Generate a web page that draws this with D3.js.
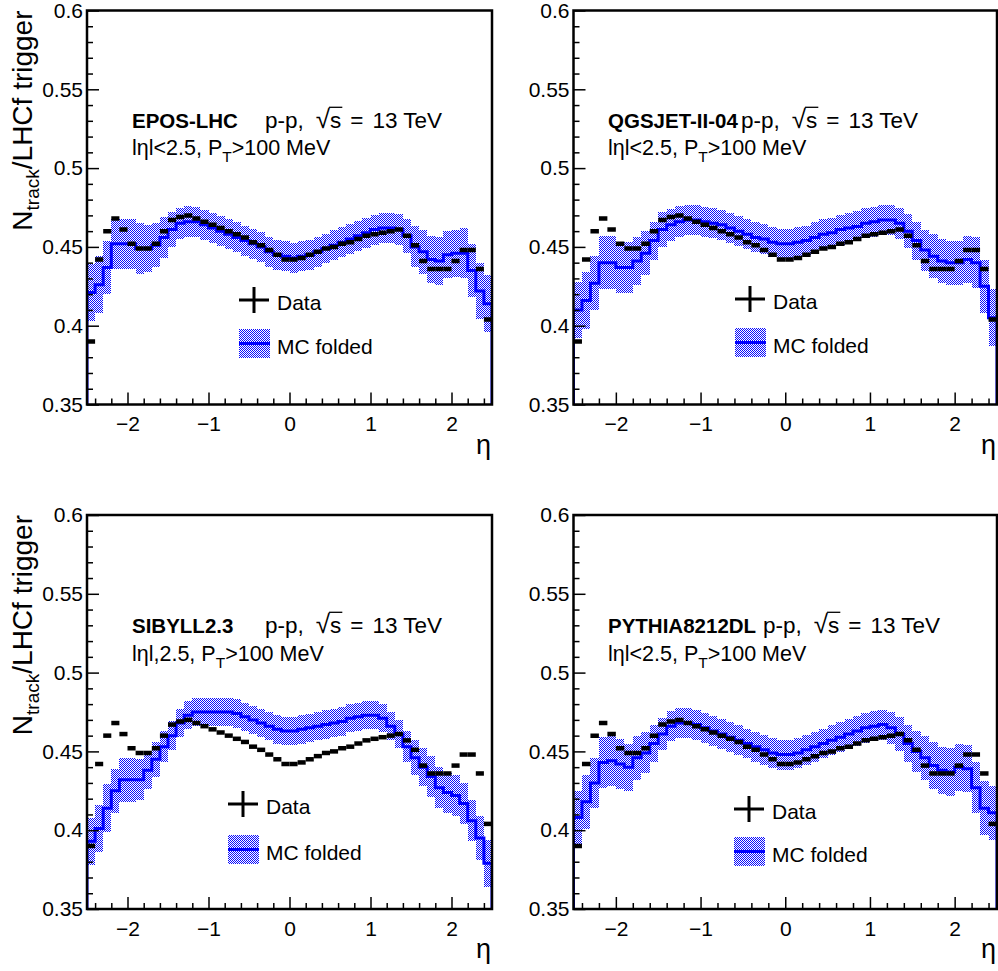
<!DOCTYPE html>
<html><head><meta charset="utf-8">
<script src="https://cdn.jsdelivr.net/npm/d3@7"></script>
<style>
body{margin:0;background:#fff;}
svg{display:block;}
text{font-family:"Liberation Sans",Arial,Helvetica,sans-serif;fill:#000;}
</style>
</head><body>
<svg id="c" width="998" height="971"></svg>
<script>
// ---------- DATA ----------
const etaCenters = [-2.45,-2.35,-2.25,-2.15,-2.05,-1.95,-1.85,-1.75,-1.65,-1.55,-1.45,-1.35,-1.25,-1.15,-1.05,-0.95,-0.85,-0.75,-0.65,-0.55,-0.45,-0.35,-0.25,-0.15,-0.05,0.05,0.15,0.25,0.35,0.45,0.55,0.65,0.75,0.85,0.95,1.05,1.15,1.25,1.35,1.45,1.55,1.65,1.75,1.85,1.95,2.05,2.15,2.25,2.35,2.45];
const binWidth = 0.1;

const dataValues = [0.390,0.442,0.460,0.468,0.461,0.452,0.449,0.449,0.452,0.460,0.467,0.469,0.470,0.468,0.466,0.464,0.462,0.460,0.458,0.456,0.453,0.451,0.448,0.445,0.442,0.442,0.443,0.445,0.447,0.449,0.450,0.452,0.453,0.455,0.457,0.458,0.459,0.460,0.461,0.457,0.451,0.441,0.436,0.436,0.436,0.441,0.448,0.448,0.436,0.404];

const mcEpos = [0.421,0.426,0.437,0.452,0.452,0.452,0.449,0.449,0.451,0.456,0.461,0.465,0.466,0.466,0.464,0.462,0.460,0.458,0.456,0.454,0.452,0.450,0.447,0.445,0.444,0.443,0.444,0.445,0.447,0.449,0.451,0.453,0.455,0.457,0.459,0.461,0.462,0.462,0.461,0.457,0.450,0.447,0.442,0.441,0.445,0.446,0.446,0.435,0.422,0.414];
const mcEposErr = [0.018,0.018,0.017,0.016,0.016,0.016,0.016,0.015,0.014,0.013,0.011,0.010,0.010,0.0095,0.0095,0.0095,0.0095,0.0095,0.0095,0.0095,0.0095,0.0095,0.0095,0.0095,0.0095,0.0095,0.0095,0.0095,0.0095,0.0095,0.0095,0.0095,0.0095,0.0095,0.0095,0.0095,0.0095,0.0095,0.010,0.011,0.013,0.014,0.015,0.015,0.015,0.015,0.016,0.017,0.018,0.018];

const mcQgs = [0.410,0.416,0.427,0.440,0.440,0.437,0.437,0.441,0.446,0.454,0.461,0.464,0.466,0.467,0.467,0.466,0.465,0.464,0.462,0.460,0.458,0.456,0.455,0.453,0.452,0.452,0.453,0.454,0.456,0.458,0.459,0.461,0.462,0.463,0.465,0.466,0.467,0.467,0.465,0.460,0.454,0.448,0.444,0.441,0.440,0.440,0.442,0.440,0.425,0.405];
const mcQgsErr = [0.018,0.018,0.017,0.017,0.017,0.016,0.016,0.015,0.014,0.012,0.011,0.010,0.010,0.0095,0.0095,0.0095,0.0095,0.0095,0.0095,0.0095,0.0095,0.0095,0.0095,0.0095,0.0095,0.0095,0.0095,0.0095,0.0095,0.0095,0.0095,0.0095,0.0095,0.0095,0.0095,0.0095,0.0095,0.0095,0.010,0.011,0.012,0.013,0.014,0.014,0.014,0.014,0.015,0.016,0.017,0.018];

const mcSib = [0.393,0.401,0.414,0.425,0.432,0.432,0.432,0.438,0.445,0.453,0.460,0.468,0.473,0.475,0.475,0.475,0.475,0.475,0.474,0.472,0.470,0.468,0.466,0.464,0.463,0.463,0.464,0.465,0.466,0.467,0.468,0.469,0.471,0.472,0.473,0.473,0.471,0.466,0.461,0.453,0.446,0.440,0.434,0.427,0.424,0.422,0.417,0.406,0.395,0.379];
const mcSibErr = [0.015,0.015,0.015,0.014,0.014,0.014,0.013,0.012,0.011,0.010,0.009,0.009,0.009,0.009,0.009,0.009,0.009,0.009,0.009,0.009,0.009,0.009,0.009,0.009,0.009,0.009,0.009,0.009,0.009,0.009,0.009,0.009,0.009,0.009,0.009,0.009,0.009,0.009,0.009,0.010,0.011,0.012,0.013,0.013,0.013,0.013,0.013,0.013,0.014,0.015];

const mcPyt = [0.408,0.418,0.430,0.443,0.444,0.442,0.440,0.446,0.449,0.455,0.461,0.466,0.468,0.468,0.467,0.465,0.463,0.461,0.459,0.457,0.455,0.453,0.451,0.449,0.448,0.448,0.449,0.451,0.453,0.455,0.457,0.459,0.461,0.463,0.465,0.466,0.467,0.465,0.461,0.455,0.450,0.446,0.441,0.438,0.437,0.440,0.439,0.427,0.414,0.411];
const mcPytErr = [0.017,0.017,0.016,0.016,0.016,0.016,0.015,0.014,0.013,0.012,0.010,0.0095,0.0095,0.0095,0.0095,0.0095,0.0095,0.0095,0.0095,0.0095,0.0095,0.0095,0.0095,0.0095,0.0095,0.0095,0.0095,0.0095,0.0095,0.0095,0.0095,0.0095,0.0095,0.0095,0.0095,0.0095,0.0095,0.010,0.011,0.012,0.013,0.014,0.015,0.015,0.015,0.015,0.015,0.016,0.017,0.017];

const modelNames = ["EPOS-LHC","QGSJET-II-04","SIBYLL2.3","PYTHIA8212DL"];
const etaCutLabels = ["lηl<2.5, P","lηl<2.5, P","lηl,2.5, P","lηl<2.5, P"];
const mcSeries = [mcEpos, mcQgs, mcSib, mcPyt];
const mcErrors = [mcEposErr, mcQgsErr, mcSibErr, mcPytErr];

const xTicks = [-2,-1,0,1,2];
const xMinorTicks = [-2.4,-2.2,-1.8,-1.6,-1.4,-1.2,-0.8,-0.6,-0.4,-0.2,0.2,0.4,0.6,0.8,1.2,1.4,1.6,1.8,2.2,2.4];
const yTicks = [0.35,0.4,0.45,0.5,0.55,0.6];
const yMinorTicks = [0.36,0.37,0.38,0.39,0.41,0.42,0.43,0.44,0.46,0.47,0.48,0.49,0.51,0.52,0.53,0.54,0.56,0.57,0.58,0.59];

// ---------- LAYOUT ----------
const panels = [
  {x0:87,   x1:492, y0:10.5, y1:404.5, title:true,  ann:{x:132, y:128, x2:265, y2:155}, leg:{cx:254, cy:300, bx:239, by:329}},
  {x0:573.5,x1:997, y0:10.5, y1:404.5, title:false, ann:{x:608, y:128, x2:741, y2:155}, leg:{cx:750, cy:299, bx:735, by:328}},
  {x0:87,   x1:492, y0:515,  y1:909,   title:true,  ann:{x:132, y:633, x2:265, y2:661}, leg:{cx:243, cy:804, bx:228, by:835}},
  {x0:573.5,x1:997, y0:515,  y1:909,   title:false, ann:{x:608, y:633, x2:763, y2:661}, leg:{cx:749, cy:809, bx:734, by:837}}
];

const BLUE = "#0000ff";
const svg = d3.select("#c");
const defs = svg.append("defs");
const pat = defs.append("pattern").attr("id","hatch").attr("patternUnits","userSpaceOnUse")
  .attr("width",2).attr("height",2);
pat.append("rect").attr("x",0).attr("y",0).attr("width",1).attr("height",1).attr("fill","#0a0aff");
pat.append("rect").attr("x",1).attr("y",1).attr("width",1).attr("height",1).attr("fill","#0a0aff");

function rich(g, x, y, pieces, size) {
  let cx = x;
  pieces.forEach(p => {
    const fs = p.fs || (p.sub ? size*0.72 : size);
    const t = g.append("text").attr("x", cx).attr("y", y + (p.sub ? size*0.32 : 0))
      .attr("font-size", fs).attr("font-weight", p.bold ? "bold" : "normal").text(p.t);
    t.style("white-space","pre");
    const w = t.node().getComputedTextLength();
    if (p.over) {
      g.append("line").attr("x1", cx - 1).attr("x2", cx + w + 1)
        .attr("y1", y - size*0.92).attr("y2", y - size*0.92)
        .attr("stroke","#000").attr("stroke-width",1.3);
    }
    cx += w + (p.gap || 0);
  });
}

panels.forEach((P, i) => {
  const x = d3.scaleLinear().domain([-2.5, 2.5]).range([P.x0, P.x1]);
  const y = d3.scaleLinear().domain([0.35, 0.6]).range([P.y1, P.y0]);
  const g = svg.append("g");
  const clipId = "clip" + i;
  defs.append("clipPath").attr("id", clipId).append("rect")
    .attr("x", P.x0).attr("y", P.y0).attr("width", P.x1 - P.x0).attr("height", P.y1 - P.y0);
  const inner = g.append("g").attr("clip-path", `url(#${clipId})`);

  const mc = mcSeries[i], err = mcErrors[i];
  // hatched band
  inner.append("g").selectAll("rect").data(etaCenters).join("rect")
    .attr("x", (c) => x(c - binWidth/2))
    .attr("width", (c) => x(c + binWidth/2) - x(c - binWidth/2))
    .attr("y", (c, k) => y(mc[k] + err[k]))
    .attr("height", (c, k) => y(mc[k] - err[k]) - y(mc[k] + err[k]))
    .attr("fill", "url(#hatch)")
    .attr("shape-rendering", "crispEdges");

  // step line
  const pts = [[x(-2.5), y(0.35)]];
  etaCenters.forEach((c, k) => {
    pts.push([x(c - binWidth/2), y(mc[k])]);
    pts.push([x(c + binWidth/2), y(mc[k])]);
  });
  pts.push([x(2.5), y(0.35)]);
  inner.append("path").attr("d", d3.line()(pts)).attr("fill","none")
    .attr("stroke", BLUE).attr("stroke-width", 3);

  // data points
  inner.append("g").selectAll("line").data(etaCenters).join("line")
    .attr("x1", (c) => x(c - binWidth/2)).attr("x2", (c) => x(c + binWidth/2))
    .attr("y1", (c, k) => y(dataValues[k])).attr("y2", (c, k) => y(dataValues[k]))
    .attr("stroke", "#000").attr("stroke-width", 4.5);

  // axes
  const axB = g.append("g").attr("transform", `translate(0,${P.y1})`)
    .call(d3.axisBottom(x).tickValues(xTicks).tickSizeInner(-12).tickSizeOuter(0).tickPadding(12)
      .tickFormat(d => d < 0 ? "\u2212" + Math.abs(d) : String(d)));
  const axBm = g.append("g").attr("transform", `translate(0,${P.y1})`)
    .call(d3.axisBottom(x).tickValues(xMinorTicks).tickSizeInner(-6).tickSizeOuter(0).tickFormat(""));
  const axL = g.append("g").attr("transform", `translate(${P.x0},0)`)
    .call(d3.axisLeft(y).tickValues(yTicks).tickSizeInner(-12).tickSizeOuter(0).tickPadding(4)
      .tickFormat(d => String(d)));
  const axLm = g.append("g").attr("transform", `translate(${P.x0},0)`)
    .call(d3.axisLeft(y).tickValues(yMinorTicks).tickSizeInner(-6).tickSizeOuter(0).tickFormat(""));
  [axB, axBm, axL, axLm].forEach(a => {
    a.select(".domain").remove();
    a.selectAll("line").attr("stroke", "#000").attr("stroke-width", 1.5);
    a.selectAll("text").attr("font-size", 21).attr("font-family", '"Liberation Sans",Arial,sans-serif').attr("fill","#000");
  });

  // frame
  g.append("rect").attr("x", P.x0).attr("y", P.y0).attr("width", P.x1 - P.x0).attr("height", P.y1 - P.y0)
    .attr("fill", "none").attr("stroke", "#000").attr("stroke-width", 2.5);

  // x title
  g.append("text").attr("x", P.x1 - 1).attr("y", P.y1 + 49).attr("text-anchor", "end")
    .attr("font-size", 27).text("η");

  // y title
  if (P.title) {
    const t = g.append("text").attr("transform", `translate(32,${P.y0}) rotate(-90)`)
      .attr("text-anchor", "end").attr("font-size", 28);
    t.append("tspan").text("N");
    t.append("tspan").attr("font-size", 19).attr("dy", 7).text("track");
    t.append("tspan").attr("dy", -7).text("/LHCf trigger");
  }

  // annotations
  rich(g, P.ann.x, P.ann.y, [{t: modelNames[i], bold: true}], 20.5);
  rich(g, P.ann.x2, P.ann.y, [{t:"p-p,", gap: 12},{t:"√", fs: 26},{t:"s", over:true, gap: 9},{t:"=", gap: 9},{t:"13 TeV"}], 22.5);
  rich(g, P.ann.x, P.ann.y2, [{t: etaCutLabels[i]},{t:"T", sub:true},{t:">100 MeV"}], 21.5);

  // legend
  const L = P.leg;
  g.append("line").attr("x1", L.cx - 15).attr("x2", L.cx + 15).attr("y1", L.cy).attr("y2", L.cy)
    .attr("stroke", "#000").attr("stroke-width", 3);
  g.append("line").attr("x1", L.cx).attr("x2", L.cx).attr("y1", L.cy - 13).attr("y2", L.cy + 13)
    .attr("stroke", "#000").attr("stroke-width", 3);
  g.append("text").attr("x", L.cx + 23).attr("y", L.cy + 10).attr("font-size", 21).text("Data");
  g.append("rect").attr("x", L.bx).attr("y", L.by).attr("width", 31).attr("height", 29)
    .attr("fill", "url(#hatch)").attr("shape-rendering", "crispEdges");
  g.append("line").attr("x1", L.bx).attr("x2", L.bx + 31).attr("y1", L.by + 14.5).attr("y2", L.by + 14.5)
    .attr("stroke", BLUE).attr("stroke-width", 3);
  g.append("text").attr("x", L.bx + 38).attr("y", L.by + 25).attr("font-size", 21).text("MC folded");
});
</script>
</body></html>
